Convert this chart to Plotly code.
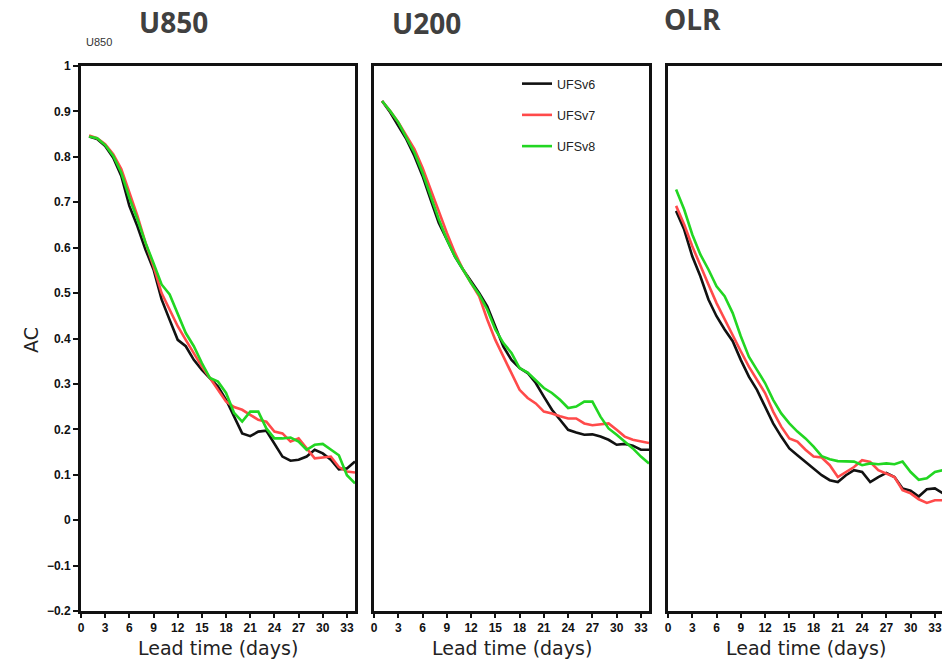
import plotly.graph_objects as go

W, H = 942, 662

days = list(range(1, 35))
series_names = ["UFSv6", "UFSv7", "UFSv8"]
series_colors = ["#111111", "#ff4a4a", "#22d622"]

u850_v6 = [0.845, 0.839, 0.824, 0.798, 0.758, 0.692, 0.647, 0.596, 0.552, 0.486,
           0.441, 0.397, 0.383, 0.353, 0.331, 0.313, 0.294, 0.265, 0.228, 0.191,
           0.185, 0.195, 0.197, 0.169, 0.140, 0.131, 0.133, 0.140, 0.155, 0.147,
           0.133, 0.112, 0.114, 0.129]
u850_v7 = [0.847, 0.841, 0.828, 0.806, 0.773, 0.721, 0.670, 0.611, 0.559, 0.500,
           0.464, 0.427, 0.397, 0.368, 0.338, 0.313, 0.287, 0.261, 0.249, 0.243,
           0.232, 0.221, 0.217, 0.195, 0.191, 0.173, 0.180, 0.158, 0.136, 0.138,
           0.140, 0.117, 0.107, 0.105]
u850_v8 = [0.845, 0.841, 0.826, 0.802, 0.765, 0.710, 0.662, 0.611, 0.566, 0.519,
           0.497, 0.456, 0.412, 0.383, 0.346, 0.313, 0.305, 0.280, 0.236, 0.217,
           0.239, 0.239, 0.202, 0.180, 0.180, 0.182, 0.173, 0.155, 0.166, 0.168,
           0.156, 0.143, 0.099, 0.081]

u200_v6 = [0.923, 0.898, 0.868, 0.839, 0.802, 0.758, 0.706, 0.655, 0.618, 0.581,
           0.552, 0.526, 0.500, 0.471, 0.427, 0.382, 0.353, 0.335, 0.324, 0.302,
           0.272, 0.243, 0.221, 0.199, 0.193, 0.188, 0.189, 0.184, 0.177, 0.166,
           0.168, 0.164, 0.155, 0.155]
u200_v7 = [0.923, 0.901, 0.876, 0.846, 0.817, 0.776, 0.728, 0.677, 0.633, 0.589,
           0.552, 0.522, 0.493, 0.442, 0.397, 0.360, 0.324, 0.287, 0.269, 0.257,
           0.239, 0.235, 0.229, 0.224, 0.224, 0.213, 0.209, 0.211, 0.213, 0.199,
           0.184, 0.177, 0.173, 0.170]
u200_v8 = [0.923, 0.901, 0.876, 0.842, 0.809, 0.765, 0.714, 0.663, 0.618, 0.581,
           0.552, 0.522, 0.497, 0.464, 0.420, 0.390, 0.368, 0.335, 0.325, 0.309,
           0.291, 0.280, 0.265, 0.247, 0.250, 0.261, 0.261, 0.228, 0.202, 0.188,
           0.173, 0.158, 0.140, 0.125]

olr_v6 = [0.681, 0.640, 0.581, 0.537, 0.486, 0.449, 0.420, 0.394, 0.353, 0.316,
          0.287, 0.250, 0.213, 0.184, 0.158, 0.143, 0.129, 0.114, 0.099, 0.088,
          0.084, 0.099, 0.110, 0.106, 0.084, 0.095, 0.104, 0.095, 0.070, 0.065,
          0.052, 0.068, 0.070, 0.059]
olr_v7 = [0.692, 0.651, 0.603, 0.559, 0.519, 0.478, 0.442, 0.408, 0.372, 0.338,
          0.309, 0.280, 0.239, 0.206, 0.180, 0.173, 0.155, 0.140, 0.138, 0.121,
          0.095, 0.106, 0.117, 0.132, 0.128, 0.110, 0.103, 0.095, 0.066, 0.059,
          0.046, 0.038, 0.044, 0.044]
olr_v8 = [0.728, 0.684, 0.629, 0.585, 0.552, 0.515, 0.493, 0.456, 0.405, 0.360,
          0.331, 0.302, 0.265, 0.235, 0.213, 0.195, 0.180, 0.162, 0.141, 0.134,
          0.130, 0.129, 0.129, 0.121, 0.125, 0.123, 0.125, 0.123, 0.129, 0.106,
          0.089, 0.092, 0.106, 0.110]

panel_titles = ["U850", "U200", "OLR"]
panel_data = [[u850_v6, u850_v7, u850_v8],
              [u200_v6, u200_v7, u200_v8],
              [olr_v6, olr_v7, olr_v8]]

x_ticks = list(range(0, 34, 3))
y_ticks = [round(-0.2 + 0.1 * i, 1) for i in range(13)]
y_tick_text = [("\u2212" + f"{abs(v):g}") if v < 0 else f"{v:g}" for v in y_ticks]


def px(x):
    return x / W


def py(y):
    return 1 - y / H


domains_x = [[px(81), px(355)], [px(374), px(649)], [px(668), 1.0]]
x_ranges = [[0, 34], [0, 34], [0, 34 * (942 - 668) / (943 - 668)]]
domain_y = [py(611), py(66)]

fig = go.Figure()

for p in range(3):
    axn = "" if p == 0 else str(p + 1)
    for s in range(3):
        fig.add_trace(go.Scatter(
            x=days, y=panel_data[p][s], mode="lines",
            line=dict(color=series_colors[s], width=2.6),
            name=series_names[s], legendgroup=series_names[s],
            showlegend=(p == 1),
            xaxis="x" + axn, yaxis="y" + axn,
        ))

tickfont = dict(family="Liberation Sans, Arial", size=12, color="#111", weight="bold")

layout = dict(
    width=W, height=H,
    margin=dict(l=0, r=0, t=0, b=0, autoexpand=False),
    paper_bgcolor="white", plot_bgcolor="white",
    showlegend=True,
    legend=dict(
        x=px(517), y=py(69), xanchor="left", yanchor="top",
        xref="paper", yref="paper",
        font=dict(family="Liberation Sans, Arial", size=12.5, color="#222"),
        bgcolor="rgba(0,0,0,0)", tracegroupgap=12, traceorder="grouped",
    ),
)

for p in range(3):
    axn = "" if p == 0 else str(p + 1)
    layout["xaxis" + axn] = dict(
        domain=domains_x[p], range=x_ranges[p],
        tickvals=x_ticks, ticks="outside", ticklen=4, tickwidth=2, tickcolor="#111",
        showline=True, linecolor="#111", linewidth=3, mirror=True,
        showgrid=False, zeroline=False, tickfont=tickfont,
        anchor="y" + axn, automargin=False,
    )
    ya = dict(
        domain=domain_y, range=[-0.2, 1.0],
        showline=True, linecolor="#111", linewidth=3,
        mirror=(p != 2), showgrid=False, zeroline=False,
        anchor="x" + axn, automargin=False,
    )
    if p == 0:
        ya.update(tickvals=y_ticks, ticktext=y_tick_text, ticks="outside",
                  ticklen=5, tickwidth=2, tickcolor="#111", tickfont=tickfont)
    else:
        ya.update(showticklabels=False, ticks="")
    layout["yaxis" + axn] = ya

fig.update_layout(**layout)

title_font = dict(family="Open Sans", size=28, color="#404040", weight="bold")
title_pos = [(173, 22), (426, 23), (692, 19)]
for t, (tx, ty) in zip(panel_titles, title_pos):
    fig.add_annotation(text=t, x=px(tx), y=py(ty), xref="paper", yref="paper",
                       showarrow=False, font=title_font, xanchor="center", yanchor="middle")

fig.add_annotation(text="U850", x=px(99), y=py(42), xref="paper", yref="paper",
                   showarrow=False, xanchor="center", yanchor="middle",
                   font=dict(family="Liberation Sans, Arial", size=11, color="#333333"))

fig.add_annotation(text="AC", x=px(31), y=py(340), xref="paper", yref="paper",
                   showarrow=False, textangle=-90, xanchor="center", yanchor="middle",
                   font=dict(family="DejaVu Sans", size=19, color="#222222"))

for cx in [218, 512, 806]:
    fig.add_annotation(text="Lead time (days)", x=px(cx), y=py(648), xref="paper", yref="paper",
                       showarrow=False, xanchor="center", yanchor="middle",
                       font=dict(family="DejaVu Sans", size=19, color="#222222"))

fig.write_html("out.html")
